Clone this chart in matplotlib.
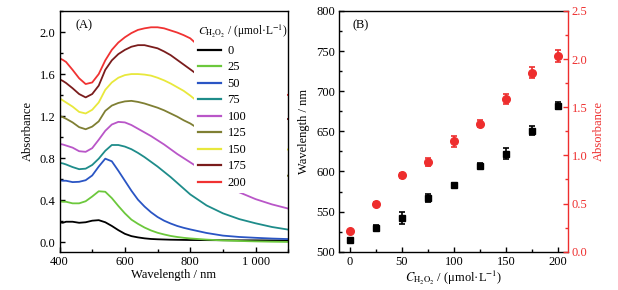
import matplotlib
matplotlib.use("Agg")
import matplotlib.pyplot as plt
from matplotlib.ticker import MultipleLocator

plt.rcParams['font.family'] = ['Liberation Serif', 'DejaVu Serif']
plt.rcParams['mathtext.fontset'] = 'stix'
plt.rcParams['font.size'] = 9

# ---------------- data ----------------
wavelength = [400, 410, 420, 440, 460, 480, 500, 520, 540, 560, 580, 600, 620, 640,
              660, 680, 700, 720, 740, 760, 780, 800, 850, 900, 950, 1000, 1050, 1100]

conc_labels = ['0', '25', '50', '75', '100', '125', '150', '175', '200']
colors = ['#000000', '#6CC83C', '#2A55C4', '#1E8C8A', '#B956C8', '#7F7F33',
          '#E8E83C', '#7A1C1C', '#F03232']

abs_0 = [0.19, 0.185, 0.195, 0.195, 0.185, 0.19, 0.205, 0.21, 0.19, 0.155, 0.115, 0.08, 0.058, 0.046,
         0.037, 0.031, 0.028, 0.026, 0.024, 0.023, 0.022, 0.021, 0.02, 0.019, 0.018, 0.018, 0.017, 0.016]
abs_25 = [0.39, 0.385, 0.385, 0.37, 0.37, 0.39, 0.435, 0.485, 0.48, 0.42, 0.345, 0.275, 0.215, 0.175,
          0.14, 0.112, 0.09, 0.074, 0.06, 0.05, 0.042, 0.036, 0.025, 0.017, 0.012, 0.008, 0.005, 0.003]
abs_50 = [0.59, 0.585, 0.585, 0.572, 0.575, 0.59, 0.635, 0.72, 0.795, 0.77, 0.68, 0.585, 0.49, 0.405,
          0.34, 0.285, 0.24, 0.205, 0.178, 0.155, 0.137, 0.122, 0.088, 0.063, 0.05, 0.042, 0.035, 0.03]
abs_75 = [0.755, 0.75, 0.74, 0.715, 0.695, 0.70, 0.735, 0.795, 0.87, 0.925, 0.925, 0.91, 0.885, 0.85,
          0.81, 0.765, 0.72, 0.67, 0.62, 0.565, 0.51, 0.455, 0.35, 0.275, 0.22, 0.18, 0.145, 0.12]
abs_100 = [0.935, 0.93, 0.92, 0.9, 0.866, 0.86, 0.895, 0.975, 1.06, 1.12, 1.145, 1.14, 1.115, 1.08,
           1.045, 1.01, 0.97, 0.93, 0.885, 0.84, 0.80, 0.76, 0.66, 0.56, 0.475, 0.41, 0.36, 0.32]
abs_125 = [1.2, 1.19, 1.175, 1.14, 1.095, 1.075, 1.1, 1.15, 1.25, 1.3, 1.325, 1.34, 1.345, 1.335,
           1.32, 1.3, 1.28, 1.255, 1.225, 1.195, 1.16, 1.13, 1.03, 0.93, 0.84, 0.76, 0.69, 0.63]
abs_150 = [1.37, 1.35, 1.33, 1.29, 1.24, 1.225, 1.26, 1.33, 1.45, 1.52, 1.565, 1.59, 1.6, 1.6,
           1.595, 1.585, 1.565, 1.54, 1.51, 1.475, 1.44, 1.395, 1.27, 1.15, 1.05, 0.98, 0.92, 0.88]
abs_175 = [1.55, 1.535, 1.515, 1.465, 1.41, 1.378, 1.41, 1.49, 1.64, 1.73, 1.79, 1.83, 1.86, 1.875,
           1.875, 1.86, 1.845, 1.815, 1.78, 1.735, 1.69, 1.645, 1.53, 1.43, 1.35, 1.28, 1.22, 1.17]
abs_200 = [1.75, 1.735, 1.715, 1.64, 1.56, 1.505, 1.52, 1.6, 1.73, 1.83, 1.9, 1.95, 1.99, 2.02,
           2.035, 2.045, 2.045, 2.035, 2.015, 1.995, 1.97, 1.94, 1.8, 1.68, 1.58, 1.5, 1.44, 1.40]
spectra = [abs_0, abs_25, abs_50, abs_75, abs_100, abs_125, abs_150, abs_175, abs_200]

conc = [0, 25, 50, 75, 100, 125, 150, 175, 200]
peak_wl = [515, 530, 542, 567, 583, 607, 622, 651, 682]
peak_wl_err = [1.5, 3, 8, 5, 2, 3, 7, 6, 4]
peak_abs = [0.21, 0.495, 0.795, 0.93, 1.145, 1.33, 1.585, 1.86, 2.035]
peak_abs_err = [0.015, 0.02, 0.025, 0.04, 0.06, 0.04, 0.05, 0.06, 0.065]

red = '#EE2E2E'
conc_label = r'$C_{\mathrm{H_2O_2}}$ / (μmol·L$^{-1}$)'

# ---------------- figure ----------------
fig = plt.figure(figsize=(6.18, 2.90), dpi=100)
axA = fig.add_axes([0.0963, 0.1321, 0.3702, 0.830])
axB = fig.add_axes([0.5485, 0.1321, 0.3698, 0.830])

def style(ax):
    for s in ax.spines.values():
        s.set_linewidth(1.0)
    ax.tick_params(which='both', direction='in', top=False, right=False, width=1.0)
    ax.tick_params(which='major', length=3.5, pad=3)
    ax.tick_params(which='minor', length=2)

# Panel A
for y, c, lab in zip(spectra, colors, conc_labels):
    axA.plot(wavelength, y, color=c, lw=1.3, label=lab)
axA.set_xlim(400, 1100)
axA.set_ylim(-0.09, 2.2)
axA.set_xticks([400, 600, 800, 1000])
axA.set_xticklabels(['400', '600', '800', '1 000'])
axA.xaxis.set_minor_locator(MultipleLocator(100))
axA.set_yticks([0.0, 0.4, 0.8, 1.2, 1.6, 2.0])
axA.set_yticklabels(['0.0', '0.4', '0.8', '1.2', '1.6', '2.0'])
axA.yaxis.set_minor_locator(MultipleLocator(0.2))
axA.set_xlabel('Wavelength / nm', labelpad=1)
axA.set_ylabel('Absorbance', labelpad=4)
style(axA)
axA.text(0.068, 0.942, '(A)', transform=axA.transAxes, ha='left', va='center')
leg = axA.legend(loc='upper left', bbox_to_anchor=(0.59, 0.0, 0.405, 0.965), mode='expand',
                 title=conc_label,
                 frameon=True, facecolor='white', edgecolor='none', framealpha=1.0,
                 fancybox=False, handlelength=1.85, handletextpad=0.5, labelspacing=0.36,
                 borderpad=0.3, borderaxespad=0.0, fontsize=9, title_fontsize=8.3)
leg._legend_box.align = 'left'
leg.set_zorder(5)
for line in leg.get_lines():
    line.set_linewidth(1.6)

# Panel B
axB.errorbar(conc, peak_wl, yerr=peak_wl_err, fmt='s', color='black', ms=5,
             elinewidth=1.2, capsize=2.5, capthick=1.2, zorder=3)
axB.set_xlim(-10.5, 209)
axB.set_ylim(500, 800)
axB.set_xticks([0, 50, 100, 150, 200])
axB.xaxis.set_minor_locator(MultipleLocator(25))
axB.set_yticks([500, 550, 600, 650, 700, 750, 800])
axB.yaxis.set_minor_locator(MultipleLocator(25))
axB.set_xlabel(conc_label, labelpad=1)
axB.set_ylabel('Wavelength / nm', labelpad=4)
style(axB)
axB.spines['right'].set_visible(False)
axB.text(0.061, 0.942, '(B)', transform=axB.transAxes, ha='left', va='center')

axB2 = axB.twinx()
axB2.errorbar(conc, peak_abs, yerr=peak_abs_err, fmt='o', color=red, ms=5.5,
              elinewidth=1.2, capsize=2.5, capthick=1.2, zorder=3)
axB2.set_ylim(0, 2.5)
axB2.set_yticks([0.0, 0.5, 1.0, 1.5, 2.0, 2.5])
axB2.set_yticklabels(['0.0', '0.5', '1.0', '1.5', '2.0', '2.5'])
axB2.yaxis.set_minor_locator(MultipleLocator(0.25))
for s in ['left', 'top', 'bottom']:
    axB2.spines[s].set_visible(False)
axB2.spines['right'].set_color(red)
axB2.spines['right'].set_linewidth(1.0)
axB2.tick_params(which='both', direction='in', colors=red, width=1.0)
axB2.tick_params(which='major', length=3.5, pad=3)
axB2.tick_params(which='minor', length=2)
axB2.set_ylabel('Absorbance', color=red, labelpad=4)

fig.savefig('out.png', dpi=100, facecolor='white')
